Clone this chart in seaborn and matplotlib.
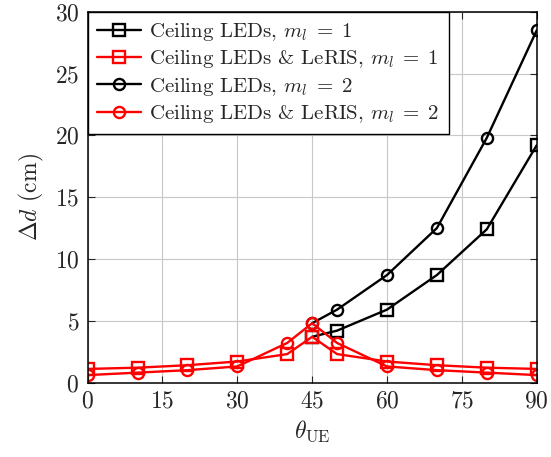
import pandas as pd
import matplotlib
matplotlib.use("Agg")
import matplotlib.pyplot as plt
import seaborn as sns

# angles of the UE (deg)
theta = [0, 10, 20, 30, 40, 45, 50, 60, 70, 80, 90]
theta_ceiling = [45, 50, 60, 70, 80, 90]

# position error (cm)
ceiling_m1 = [3.7, 4.2, 5.9, 8.7, 12.4, 19.2]
leris_m1 = [1.1, 1.2, 1.4, 1.7, 2.3, 3.7, 2.3, 1.7, 1.4, 1.2, 1.1]
ceiling_m2 = [4.8, 5.9, 8.7, 12.5, 19.8, 28.5]
leris_m2 = [0.6, 0.8, 1.0, 1.3, 3.2, 4.8, 3.2, 1.3, 1.0, 0.8, 0.6]

labels = [r"Ceiling LEDs, $m_l \;=\; 1$",
          r"Ceiling LEDs & LeRIS, $m_l \;=\; 1$",
          r"Ceiling LEDs, $m_l \;=\; 2$",
          r"Ceiling LEDs & LeRIS, $m_l \;=\; 2$"]

xticks = [0, 15, 30, 45, 60, 75, 90]
yticks = [0, 5, 10, 15, 20, 25, 30]

sns.set_style("ticks")
plt.rcParams["font.family"] = "serif"
plt.rcParams["font.serif"] = ["cmr10", "DejaVu Serif"]
plt.rcParams["mathtext.fontset"] = "cm"
plt.rcParams["axes.formatter.use_mathtext"] = True

fig = plt.figure(figsize=(5.51, 4.57), dpi=100)
ax = fig.add_axes([0.159, 0.163, 0.815, 0.811])

series = [
    (theta_ceiling, ceiling_m1, "black", "s", labels[0]),
    (theta, leris_m1, "red", "s", labels[1]),
    (theta_ceiling, ceiling_m2, "black", "o", labels[2]),
    (theta, leris_m2, "red", "o", labels[3]),
]
for xs, ys, col, mk, lab in series:
    df = pd.DataFrame({"theta": xs, "err": ys})
    sns.lineplot(data=df, x="theta", y="err", ax=ax, color=col, marker=mk,
                 markersize=8, markerfacecolor="none", markeredgecolor=col,
                 markeredgewidth=1.7, linewidth=1.7, label=lab, sort=False)

ax.set_xlim(0, 90)
ax.set_ylim(0, 30)
ax.set_xticks(xticks)
ax.set_yticks(yticks)
ax.grid(True, color="#c8c8c8", linewidth=0.8)
ax.set_axisbelow(True)
for sp in ax.spines.values():
    sp.set_visible(True)
    sp.set_linewidth(1.1)
    sp.set_color("black")
ax.tick_params(direction="in", top=True, right=True, length=5, width=0.8,
               labelsize=17, pad=6)
ax.set_xlabel(r"$\theta_{\mathrm{UE}}$", fontsize=17, labelpad=4)
ax.set_ylabel(r"$\Delta d$ (cm)", fontsize=17, labelpad=6)

leg = ax.legend(loc="upper left", borderaxespad=0, fancybox=False,
                edgecolor="black", framealpha=1, fontsize=15,
                handlelength=2.1, handletextpad=0.4, labelspacing=0.25,
                borderpad=0.45)
leg.get_frame().set_linewidth(1.0)

fig.savefig("out.png", dpi=100)
